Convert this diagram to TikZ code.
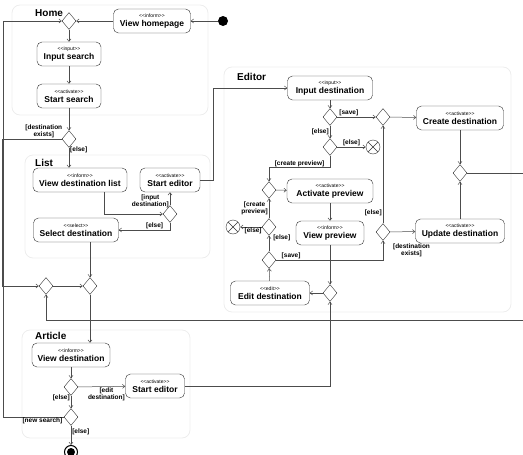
\documentclass[tikz,border=0pt]{standalone}
\usepackage{fontspec}
\setmainfont{Liberation Sans}
\usetikzlibrary{arrows.meta,positioning,calc,shapes.geometric}

\newcommand{\stereo}[1]{{\fontsize{5}{5}\selectfont\mdseries <\kern0pt<#1>\kern0pt>}}

\tikzset{
  action/.style={draw=black!80, fill=white, rounded corners=5pt, align=center,
    minimum height=24pt, inner sep=1pt, font=\fontsize{8.5}{9}\selectfont\bfseries},
  choice/.style={draw=black!80, fill=white, diamond, minimum width=14pt,
    minimum height=17pt, inner sep=0pt},
  flow/.style={draw=black!70, line width=0.5pt, -{Straight Barb[length=2.5pt,width=4pt]}},
  guard/.style={font=\fontsize{6.5}{7}\selectfont\bfseries, inner sep=1pt, align=center},
  lane/.style={draw=black!7, line width=0.8pt, rounded corners=8pt},
  lanename/.style={font=\fontsize{10}{10}\selectfont\bfseries, anchor=west, inner sep=0pt},
  startnode/.style={circle, fill=black, minimum size=10pt, inner sep=0pt},
  endnode/.style={circle, draw=black, line width=1pt, minimum size=13pt, inner sep=0pt,
    path picture={\fill (path picture bounding box.center) circle (4pt);}},
  flowend/.style={circle, draw=black!80, fill=white, minimum size=14pt, inner sep=0pt,
    path picture={\draw[black!80] (path picture bounding box.north west) -- (path picture bounding box.south east)
      (path picture bounding box.north east) -- (path picture bounding box.south west);}},
}

\begin{document}
\begin{tikzpicture}[x=1pt, y=-1pt]
  \useasboundingbox (0,0) rectangle (523,455);

  % partitions
  \draw[lane] (12,5) rectangle (208,115);
  \draw[lane] (25,155) rectangle (210,258);
  \draw[lane] (224,67) rectangle (511,312);
  \draw[lane] (22,330) rectangle (190,438);
  \node[lanename] (home) at (35,13) {Home};
  \node[lanename] (list) at (35,163) {List};
  \node[lanename] (editor) at (237,77) {Editor};
  \node[lanename] (article) at (35,336) {Article};

  % home
  \node[startnode] (init) at (223,21) {};
  \node[action, minimum width=77pt] (vhome) at (152,21) {\stereo{inform}\\View homepage};
  \node[choice] (dhome) at (69,21) {};
  \node[action, minimum width=64pt] (isearch) at (69,54) {\stereo{input}\\Input search};
  \node[action, minimum width=64pt] (ssearch) at (69,96) {\stereo{activate}\\Start search};
  \node[choice] (dexists) at (69,139) {};

  % list
  \node[action, minimum width=94pt] (vdlist) at (80,180) {\stereo{inform}\\View destination list};
  \node[action, minimum width=60pt] (seditl) at (170,180) {\stereo{activate}\\Start editor};
  \node[choice] (dinput) at (170,214) {};
  \node[action, minimum width=85pt] (seldest) at (76,230) {\stereo{select}\\Select destination};
  \node[choice] (dm1) at (46,286) {};
  \node[choice] (dm2) at (90,286) {};

  % article
  \node[action, minimum width=78pt] (vdest) at (71,355) {\stereo{inform}\\View destination};
  \node[choice] (dedit) at (71,387) {};
  \node[action, minimum width=59pt] (sedit) at (155,386) {\stereo{activate}\\Start editor};
  \node[choice] (dnew) at (71,417) {};
  \node[endnode] (final) at (71,452) {};

  % editor
  \node[action, minimum width=85pt] (idest) at (330,88) {\stereo{input}\\Input destination};
  \node[choice] (dsave) at (330,117) {};
  \node[choice] (dm) at (383,117) {};
  \node[action, minimum width=87pt] (cdest) at (460,118) {\stereo{activate}\\Create destination};
  \node[choice] (delse) at (330,147) {};
  \node[flowend] (ff1) at (373,147) {};
  \node[choice] (dprev) at (269,190) {};
  \node[action, minimum width=86pt] (apre) at (330,191) {\stereo{activate}\\Activate preview};
  \node[choice] (d4) at (269,227) {};
  \node[flowend] (ff2) at (233,227) {};
  \node[action, minimum width=68pt] (vpre) at (330,233) {\stereo{inform}\\View preview};
  \node[choice] (d5) at (269,260) {};
  \node[choice] (dex2) at (383,232) {};
  \node[action, minimum width=89pt] (udest) at (460,231) {\stereo{activate}\\Update destination};
  \node[choice] (dcu) at (460,173) {};
  \node[action, minimum width=79pt] (editd) at (270,293) {\stereo{edit}\\Edit destination};
  \node[choice] (ded2) at (330,293) {};

  \coordinate (back) at (523,320);
  \coordinate (out) at (523,173);

  % flows: home and list
  \draw[flow] (init) -- (vhome);
  \draw[flow] (vhome) -- (dhome);
  \draw[flow] (dhome) -- (isearch);
  \draw[flow] (isearch) -- (ssearch);
  \draw[flow] (ssearch) -- (dexists);
  \draw[flow] (dexists) -- node[guard, right, pos=0.1] {[else]} (vdlist.north -| dexists);
  \draw[flow] (dexists.west) -- node[guard, above, pos=0.3] {[destination\\exists]} ++(-60,0) |- (dm1);
  \draw[flow] ([xshift=24pt]vdlist.south) |- (dinput);
  \draw[flow] (dinput) -- node[guard, left, pos=0.3] {[input\\destination]} (seditl);
  \draw[flow] (dinput) |- node[guard, above, pos=0.65] {[else]} (seldest);
  \draw[flow] (seditl.east) -- ++(13,0) |- (idest);
  \draw[flow] ([xshift=14pt]seldest.south) -- (dm2);
  \draw[flow] (dm1) -- (dm2);
  \draw[flow] (back) -| (dm1);
  \draw[flow] (dm2) -- (dm2 |- vdest.north);

  % flows: article
  \draw[flow] (vdest) -- (dedit);
  \draw[flow] (dedit) -- node[guard, below, pos=0.6] {[edit\\destination]} (sedit);
  \draw[flow] (dedit) -- node[guard, left, pos=0.2] {[else]} (dnew);
  \draw[flow] (dnew) -- node[guard, right, pos=0.3] {[else]} (final);
  \draw[flow] (dnew.west) -- node[guard, below, pos=0.35] {[new search]} ++(-61,0) |- (dhome);
  \draw[flow] (sedit) -| (ded2);

  % flows: editor
  \draw[flow] (idest) -- (dsave);
  \draw[flow] (dsave) -- node[guard, above, pos=0.3] {[save]} (dm);
  \draw[flow] (dm) -- (cdest);
  \draw[flow] (dsave) -- node[guard, left] {[else]} (delse);
  \draw[flow] (delse) -- node[guard, above] {[else]} (ff1);
  \draw[flow] (delse.south) -- ++(0,12) -| node[guard, above, pos=0.25] {[create preview]} (dprev);
  \draw[flow] (dprev) -- (apre);
  \draw[flow] (apre) -- (vpre);
  \draw[flow] (d4) -- node[guard, left] {[create\\preview]} (dprev);
  \draw[flow] (d4) -- node[guard, below, pos=0.4] {[else]} (ff2);
  \draw[flow] (d5) -- node[guard, right, pos=0.85, xshift=3pt] {[else]} (d4);
  \draw[flow] (d5) -| node[guard, above right, pos=0.02] {[save]} (dex2);
  \draw[flow] (dex2) -- node[guard, left, pos=0.11] {[else]} (dm);
  \draw[flow] (dex2) -- node[guard, below=11pt, pos=0.85] {[destination\\exists]} (udest);
  \draw[flow] (udest) -- (dcu);
  \draw[flow] (cdest) -- (dcu);
  \draw[draw=black!70, line width=0.5pt] (dcu) -- (out);
  \draw[flow] (vpre) -- (ded2);
  \draw[flow] (ded2) -- (editd);
  \draw[flow] (editd) -- (d5);
\end{tikzpicture}
\end{document}
